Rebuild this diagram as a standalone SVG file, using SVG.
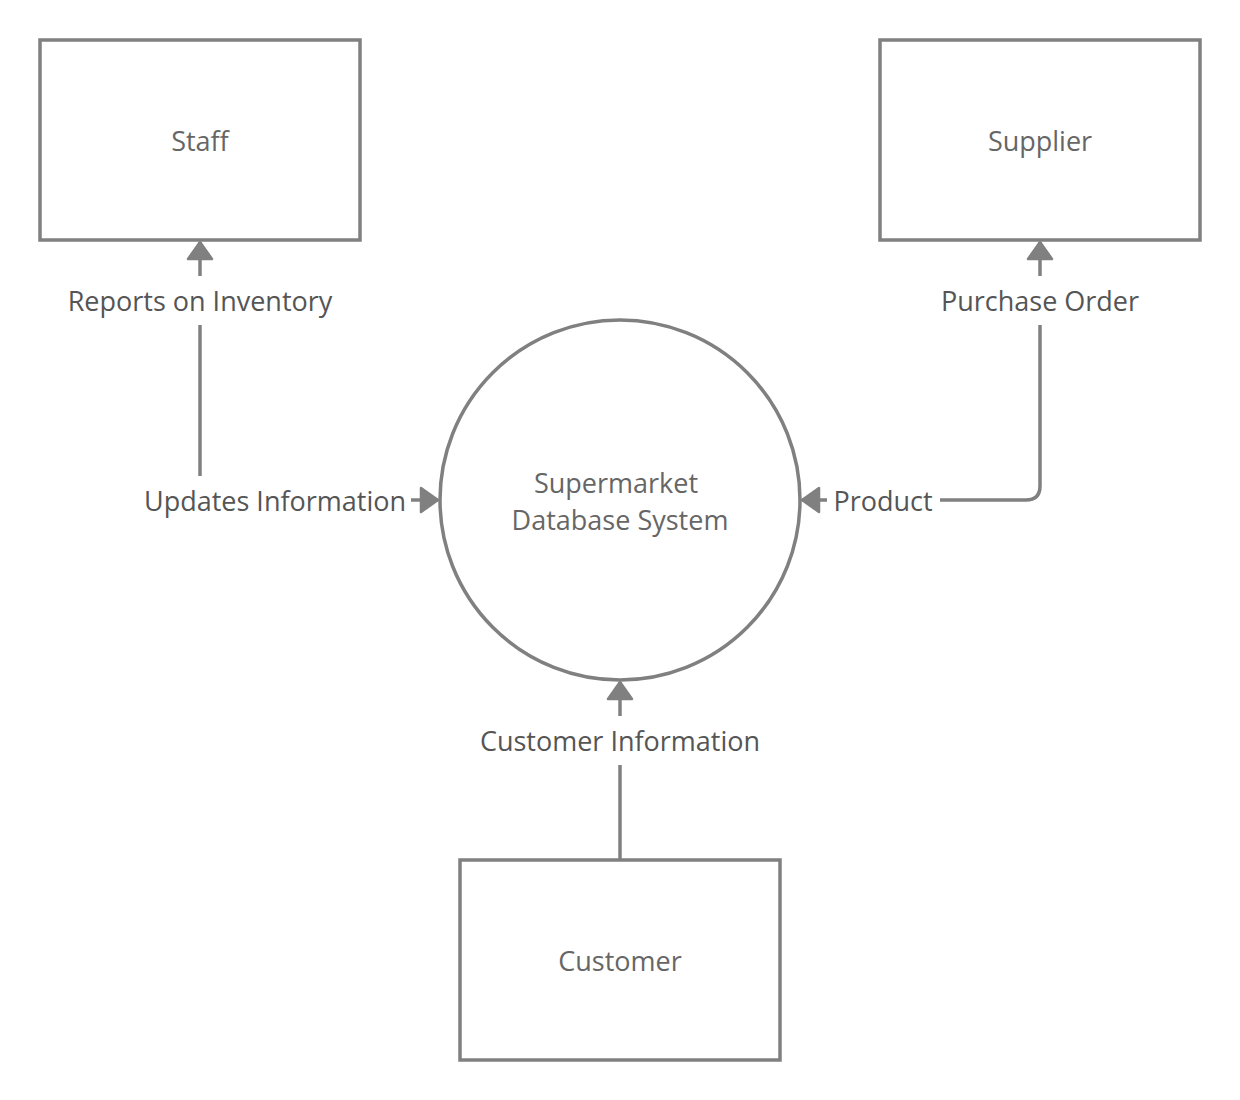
<svg xmlns="http://www.w3.org/2000/svg" width="1240" height="1100" viewBox="0 0 1240 1100">
<defs>
<style>
.box{fill:#fff;stroke:#808080;stroke-width:3.5}
.conn{fill:none;stroke:#808080;stroke-width:3.5}
.nt{font-family:"Open Sans","Liberation Sans",sans-serif;font-size:27px;fill:#666;text-anchor:middle}
.lt{font-family:"Open Sans","Liberation Sans",sans-serif;font-size:27px;fill:#555;text-anchor:middle}
.bg{fill:#fff}
</style>
<marker id="arr" viewBox="0 0 22 28" refX="20" refY="14" markerWidth="22" markerHeight="28" markerUnits="userSpaceOnUse" orient="auto-start-reverse">
<path d="M3,2 L20,14 L3,26 Z" fill="#808080" stroke="#808080" stroke-width="2.5" stroke-linejoin="round"/>
</marker>
</defs>
<rect width="1240" height="1100" fill="#fff"/>
<g id="connectors">
<path class="conn" d="M200,500 L200,242" marker-end="url(#arr)"/>
<path class="conn" d="M200,500 L438,500" marker-end="url(#arr)"/>
<path class="conn" d="M1040,242 L1040,486 Q1040,500 1026,500 L802,500" marker-start="url(#arr)" marker-end="url(#arr)"/>
<path class="conn" d="M620,860 L620,682" marker-end="url(#arr)"/>
<rect class="bg" x="60" y="276" width="280" height="49"/>
<text class="lt" x="200" y="311">Reports on Inventory</text>
<rect class="bg" x="138" y="476" width="273" height="48"/>
<text class="lt" x="275" y="511">Updates Information</text>
<rect class="bg" x="930" y="276" width="220" height="49"/>
<text class="lt" x="1040" y="311">Purchase Order</text>
<rect class="bg" x="827" y="476" width="113" height="48"/>
<text class="lt" x="883" y="511">Product</text>
<rect class="bg" x="470" y="716" width="300" height="49"/>
<text class="lt" x="620" y="751">Customer Information</text>
</g>
<g id="staff">
<rect class="box" x="40" y="40" width="320" height="200"/>
<text class="nt" x="200" y="151">Staff</text>
</g>
<g id="supplier">
<rect class="box" x="880" y="40" width="320" height="200"/>
<text class="nt" x="1040" y="151">Supplier</text>
</g>
<g id="system">
<circle class="box" cx="620" cy="500" r="180"/>
<text class="nt" x="616" y="493">Supermarket</text>
<text class="nt" x="620" y="530">Database System</text>
</g>
<g id="customer">
<rect class="box" x="460" y="860" width="320" height="200"/>
<text class="nt" x="620" y="971">Customer</text>
</g>
</svg>
